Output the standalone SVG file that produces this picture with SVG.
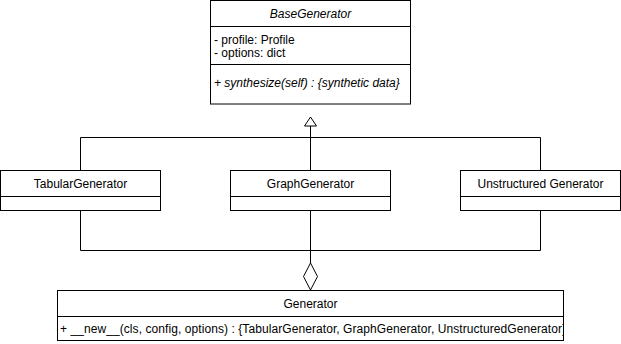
<svg xmlns="http://www.w3.org/2000/svg" width="621" height="344" viewBox="0 0 621 344">
  <style>
    .box { fill: #ffffff; stroke: #000000; stroke-width: 1; }
    .ln { fill: none; stroke: #000000; stroke-width: 1; }
    text { font-family: "Liberation Sans", Arial, Helvetica, sans-serif; font-size: 12px; fill: #000000; }
    .c { text-anchor: middle; }
    .i { font-style: italic; }
  </style>
  <defs>
    <clipPath id="genClip">
      <rect x="58" y="317" width="505" height="23"/>
    </clipPath>
  </defs>
  <rect width="621" height="344" fill="#ffffff"/>

  <!-- connectors -->
  <g id="connectors">
    <!-- generalization to BaseGenerator -->
    <polyline class="ln" points="80.5,170.5 80.5,137.5 540.5,137.5 540.5,170.5"/>
    <line class="ln" x1="310.5" y1="126" x2="310.5" y2="170.5"/>
    <polygon class="ln" points="310.5,117 316.5,126 304.5,126" fill="#ffffff"/>
    <!-- aggregation into Generator -->
    <polyline class="ln" points="80.5,210.5 80.5,250.5 540.5,250.5 540.5,210.5"/>
    <line class="ln" x1="310.5" y1="210.5" x2="310.5" y2="263"/>
    <polygon class="ln" points="310.5,263 317.5,276.5 310.5,290 303.5,276.5" fill="#ffffff"/>
  </g>

  <g id="BaseGenerator">
    <rect class="box" x="210.5" y="0.5" width="200" height="103.5"/>
    <line class="ln" x1="210.5" y1="26.5" x2="410.5" y2="26.5"/>
    <line class="ln" x1="210.5" y1="64.5" x2="410.5" y2="64.5"/>
    <text class="c i" x="310.5" y="18">BaseGenerator</text>
    <text x="214" y="44">- profile: Profile</text>
    <text x="214" y="57">- options: dict</text>
    <text class="i" x="214" y="87">+ synthesize(self) : {synthetic data}</text>
  </g>

  <g id="TabularGenerator">
    <rect class="box" x="0.5" y="170.5" width="160" height="40"/>
    <line class="ln" x1="0.5" y1="196.5" x2="160.5" y2="196.5"/>
    <text class="c" x="80.5" y="188">TabularGenerator</text>
  </g>

  <g id="GraphGenerator">
    <rect class="box" x="230.5" y="170.5" width="160" height="40"/>
    <line class="ln" x1="230.5" y1="196.5" x2="390.5" y2="196.5"/>
    <text class="c" x="310.5" y="188">GraphGenerator</text>
  </g>

  <g id="UnstructuredGenerator">
    <rect class="box" x="460.5" y="170.5" width="160" height="40"/>
    <line class="ln" x1="460.5" y1="196.5" x2="620.5" y2="196.5"/>
    <text class="c" x="540.5" y="188">Unstructured Generator</text>
  </g>

  <g id="Generator">
    <rect class="box" x="57.5" y="290.5" width="506" height="50"/>
    <line class="ln" x1="57.5" y1="316.5" x2="563.5" y2="316.5"/>
    <text class="c" x="310.5" y="308">Generator</text>
    <text x="60" y="333" textLength="506" lengthAdjust="spacing" clip-path="url(#genClip)">+ __new__(cls, config, options) : {TabularGenerator, GraphGenerator, UnstructuredGenerator}</text>
  </g>
</svg>
